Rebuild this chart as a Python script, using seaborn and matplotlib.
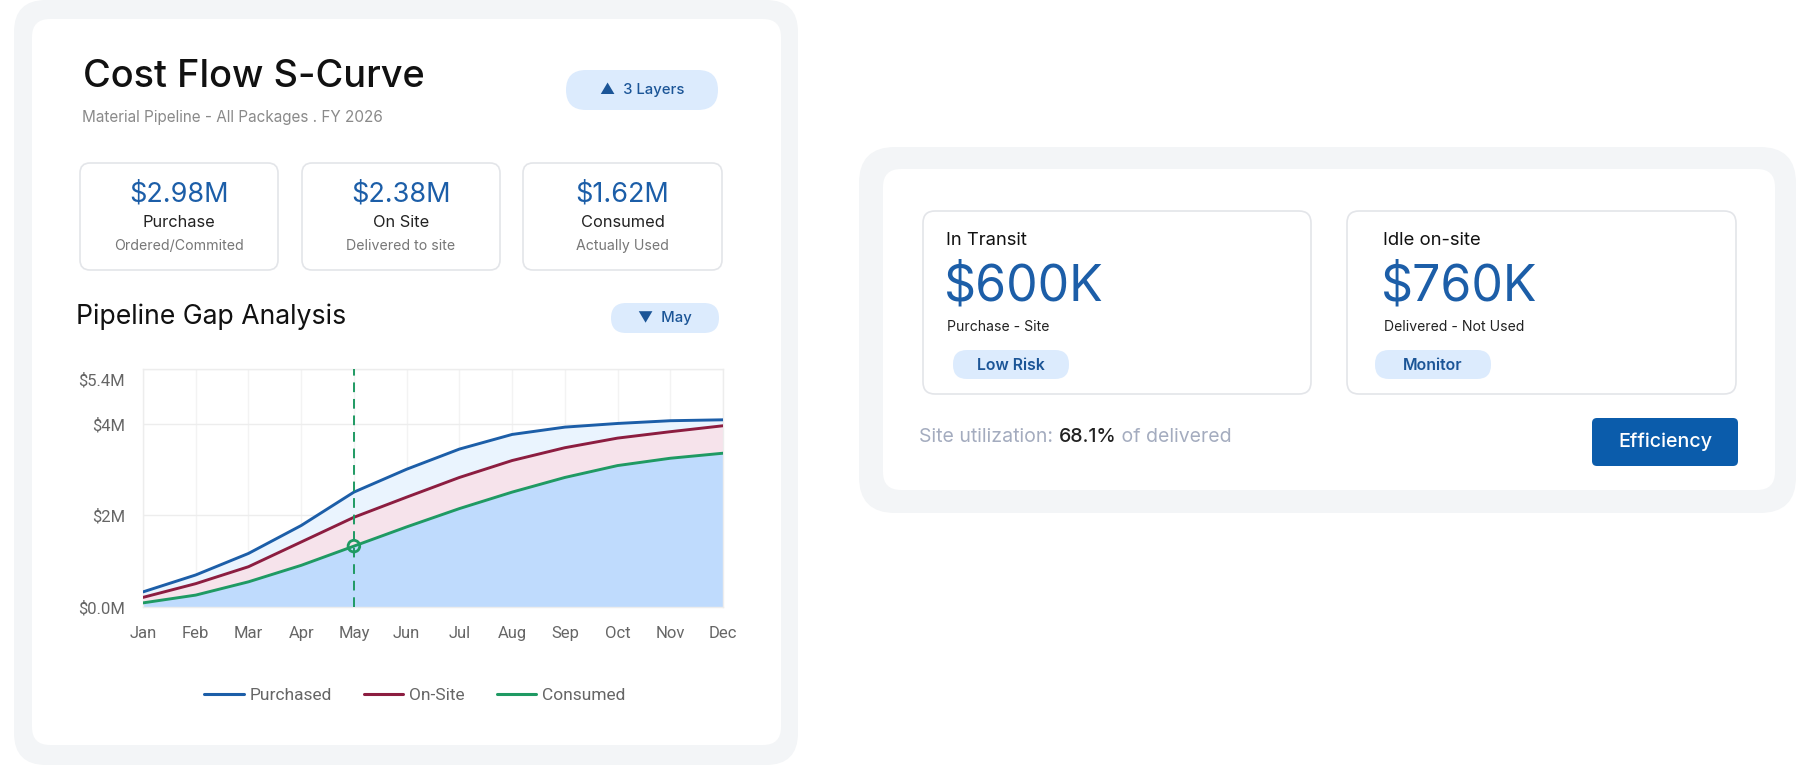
import matplotlib
matplotlib.use("Agg")
import matplotlib.pyplot as plt
from matplotlib.patches import FancyBboxPatch
from matplotlib.transforms import ScaledTranslation
from matplotlib.lines import Line2D
import seaborn as sns
import pandas as pd
import numpy as np

# ---------------- data ----------------
months = ["Jan", "Feb", "Mar", "Apr", "May", "Jun", "Jul", "Aug", "Sep", "Oct", "Nov", "Dec"]
purchased = [0.33, 0.70, 1.17, 1.78, 2.51, 3.01, 3.45, 3.77, 3.93, 4.01, 4.07, 4.09]
on_site = [0.21, 0.51, 0.88, 1.42, 1.96, 2.40, 2.83, 3.20, 3.48, 3.69, 3.83, 3.96]
consumed = [0.09, 0.26, 0.55, 0.91, 1.33, 1.75, 2.15, 2.51, 2.83, 3.09, 3.25, 3.36]
series_names = ["Purchased", "On-Site", "Consumed"]
y_ticks = [0, 2, 4, 5.2]
y_tick_labels = ["$0.0M", "$2M", "$4M", "$5.4M"]
selected_month = "May"

kpi_values = ["$2.98M", "$2.38M", "$1.62M"]
kpi_labels = ["Purchase", "On Site", "Consumed"]
kpi_subs = ["Ordered/Commited", "Delivered to site", "Actually Used"]

gap_titles = ["In Transit", "Idle on-site"]
gap_values = ["$600K", "$760K"]
gap_subs = ["Purchase - Site", "Delivered - Not Used"]
gap_badges = ["Low Risk", "Monitor"]
utilization = "68.1%"

# ---------------- style ----------------
sns.set_theme(style="white")
plt.rcParams["font.family"] = ["Inter", "DejaVu Sans"]

BLUE = "#1c5ea8"
MAROON = "#8c1d40"
GREEN = "#1f9a63"
PILL = "#dcebfd"
PILL_TXT = "#1b5597"
CARD_BG = "#f3f5f7"
BORDER = "#e3e5e9"

W, H = 1800, 765
fig = plt.figure(figsize=(18, 7.65), dpi=100)
fig.patch.set_facecolor("white")

bg = fig.add_axes([0, 0, 1, 1])
bg.set_xlim(0, W)
bg.set_ylim(H, 0)
bg.axis("off")
bg.set_zorder(0)


def rbox(x0, y0, x1, y1, r, fc, ec="none", lw=0, z=1):
    p = FancyBboxPatch((x0, y0), x1 - x0, y1 - y0,
                       boxstyle=f"round,pad=0,rounding_size={r}",
                       fc=fc, ec=ec, lw=lw, zorder=z)
    bg.add_patch(p)
    return p


def txt(x, y, s, size, color="#111111", ha="left", va="center", weight="normal", **kw):
    return bg.text(x, y, s, fontsize=size, color=color, ha=ha, va=va,
                   fontweight=weight, zorder=5, **kw)


# ---------- left card ----------
rbox(14, 0, 798, 765, 32, CARD_BG)
rbox(32, 19, 781, 745, 18, "white")

txt(83, 77, "Cost Flow S-Curve", 27.3, "#111111", weight="medium")
txt(82, 117, "Material Pipeline - All Packages . FY 2026", 11, "#8a8a8a")

rbox(566, 70, 718, 110, 20, PILL)
txt(642, 90, "\u25B2  3 Layers", 10.7, PILL_TXT, ha="center", weight="medium",
    family=["Inter", "DejaVu Sans"])

kpi_x = [(80, 278), (302, 500), (523, 722)]
for (x0, x1), v, l, s in zip(kpi_x, kpi_values, kpi_labels, kpi_subs):
    rbox(x0, 163, x1, 270, 10, "white", BORDER, 1.2)
    cx = (x0 + x1) / 2
    txt(cx, 194, v, 19.5, BLUE, ha="center")
    txt(cx, 222, l, 11.8, "#222222", ha="center")
    txt(cx, 246, s, 10.2, "#777777", ha="center")

txt(76, 317, "Pipeline Gap Analysis", 19.2, "#111111")
rbox(611, 303, 719, 333, 15, PILL)
txt(665, 318, "\u25BC  May", 10.7, PILL_TXT, ha="center", weight="medium",
    family=["Inter", "DejaVu Sans"])

# ---------- right card ----------
rbox(859, 147, 1796, 513, 36, CARD_BG)
rbox(883, 169, 1775, 490, 18, "white")

boxes = [(923, 1311, 946, 953), (1347, 1736, 1383, 1375)]
for (x0, x1, tx, bx), t, v, s, b in zip(boxes, gap_titles, gap_values, gap_subs, gap_badges):
    rbox(x0, 211, x1, 394, 12, "white", BORDER, 1.2)
    txt(tx, 240, t, 13.3, "#111111")
    txt(tx - 2, 287, v, 36, BLUE)
    txt(tx + 1, 327, s, 10.1, "#222222")
    rbox(bx, 350, bx + 116, 379, 14, PILL)
    txt(bx + 58, 365, b, 11.4, PILL_TXT, ha="center", weight="semibold")

t1 = txt(919, 437, "Site utilization: ", 14, "#a4acbf")
t2 = bg.annotate(utilization, xy=(1, 0), xycoords=t1, ha="left", va="bottom",
                 fontsize=14, color="#222222", fontweight="medium", zorder=5)
t3 = bg.annotate(" of delivered", xy=(1, 0), xycoords=t2, ha="left", va="bottom",
                 fontsize=14, color="#a4acbf", zorder=5)

rbox(1592, 418, 1738, 466, 5, "#0b5cab")
txt(1665, 442, "Efficiency", 14.2, "white", ha="center", weight="medium")

# ---------- chart ----------
L, R, T, B = 143, 723, 369, 607
ax = fig.add_axes([L / W, 1 - B / H, (R - L) / W, (B - T) / H])
ax.set_zorder(2)
ax.set_facecolor("white")

x = np.arange(len(months))
df = pd.DataFrame({
    "month": x.tolist() * 3,
    "value": purchased + on_site + consumed,
    "series": sum([[n] * len(months) for n in series_names], []),
})

ax.fill_between(x, 0, consumed, color="#bfdbfd", lw=0, zorder=1)
ax.fill_between(x, consumed, on_site, color="#f6e3eb", lw=0, zorder=1)
ax.fill_between(x, on_site, purchased, color="#eaf4fe", lw=0, zorder=1)

sns.lineplot(data=df, x="month", y="value", hue="series", hue_order=series_names,
             palette=[BLUE, MAROON, GREEN], linewidth=2.1, ax=ax, legend=False, zorder=3)

sel = months.index(selected_month)
ax.axvline(sel, color=GREEN, lw=1.4, ls=(0, (5, 3.5)), zorder=4)
ax.scatter([sel], [consumed[sel]], s=70, facecolor="none", edgecolor=GREEN, lw=2, zorder=5)

ax.set_xlim(0, len(months) - 1)
ax.set_ylim(0, 5.2)
ax.set_xticks(x)
ax.set_xticklabels(months)
ax.set_yticks(y_ticks)
ax.set_yticklabels(y_tick_labels)
ax.set_xlabel("")
ax.set_ylabel("")

ax.grid(True, axis="y", color="#ededed", lw=1)
ax.grid(True, axis="x", color="#f3f3f3", lw=1)
ax.set_axisbelow(True)
for sp in ax.spines.values():
    sp.set_color("#ededed")
    sp.set_linewidth(1)

ax.tick_params(axis="x", length=0, pad=14, labelsize=12, labelcolor="#666666")
ax.tick_params(axis="y", length=11, width=1, color="#ededed", pad=2,
               labelsize=12, labelcolor="#666666")
for lab in ax.get_xticklabels() + ax.get_yticklabels():
    lab.set_family(["Roboto", "DejaVu Sans"])
ytl = ax.get_yticklabels()
ytl[-1].set_transform(ytl[-1].get_transform() + ScaledTranslation(0, -0.10, fig.dpi_scale_trans))

handles = [Line2D([0], [0], color=c, lw=2.2) for c in [BLUE, MAROON, GREEN]]
leg = fig.legend(handles, series_names, loc="center", bbox_to_anchor=(415 / W, 1 - 695 / H),
                 ncol=3, frameon=False, handlelength=2.25, handletextpad=0.35,
                 columnspacing=1.85, prop={"family": ["Roboto", "DejaVu Sans"], "size": 12.5})
for t in leg.get_texts():
    t.set_color("#666666")

fig.savefig("out.png", dpi=100, facecolor="white")
